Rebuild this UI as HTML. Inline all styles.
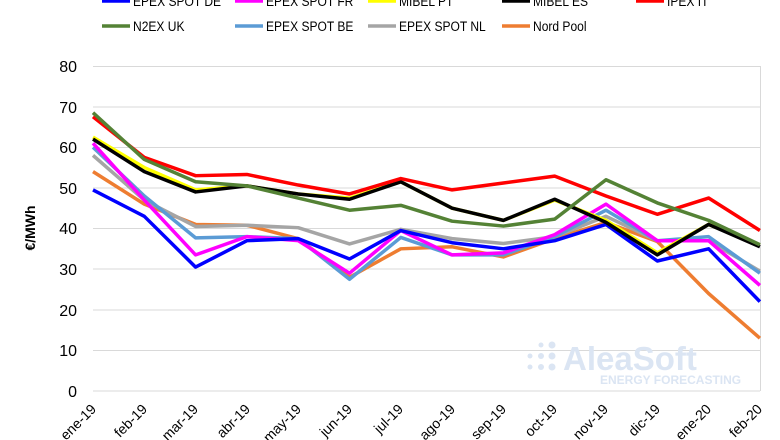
<!DOCTYPE html>
<html><head><meta charset="utf-8"><style>body{margin:0;background:#fff}svg{display:block;font-family:"Liberation Sans",sans-serif}</style></head><body>
<svg width="780" height="440" viewBox="0 0 780 440" xmlns="http://www.w3.org/2000/svg">
<rect width="780" height="440" fill="#fff"/>
<g stroke="#d9d9d9" stroke-width="1">
<line x1="93" x2="760" y1="66.5" y2="66.5"/><line x1="93" x2="760" y1="107" y2="107"/><line x1="93" x2="760" y1="147.5" y2="147.5"/><line x1="93" x2="760" y1="188" y2="188"/><line x1="93" x2="760" y1="228.5" y2="228.5"/><line x1="93" x2="760" y1="269" y2="269"/><line x1="93" x2="760" y1="310" y2="310"/><line x1="93" x2="760" y1="350.5" y2="350.5"/><line x1="93" x2="760" y1="391" y2="391"/>
<line x1="760.5" x2="760.5" y1="66" y2="391"/>
</g>
<g fill="#000" font-size="16" text-anchor="end">
<text x="77" y="72">80</text><text x="77" y="113">70</text><text x="77" y="153">60</text><text x="77" y="194">50</text><text x="77" y="234">40</text><text x="77" y="275">30</text><text x="77" y="316">20</text><text x="77" y="356">10</text><text x="77" y="397">0</text>
</g>
<text transform="translate(35,228) rotate(-90)" font-size="14" font-weight="bold" text-anchor="middle">€/MWh</text>
<g font-size="14" text-anchor="end" fill="#000">
<text transform="translate(97,410) rotate(-45)">ene-19</text><text transform="translate(148,410) rotate(-45)">feb-19</text><text transform="translate(199,410) rotate(-45)">mar-19</text><text transform="translate(251,410) rotate(-45)">abr-19</text><text transform="translate(302,410) rotate(-45)">may-19</text><text transform="translate(353,410) rotate(-45)">jun-19</text><text transform="translate(404,410) rotate(-45)">jul-19</text><text transform="translate(456,410) rotate(-45)">ago-19</text><text transform="translate(507,410) rotate(-45)">sep-19</text><text transform="translate(558,410) rotate(-45)">oct-19</text><text transform="translate(609,410) rotate(-45)">nov-19</text><text transform="translate(661,410) rotate(-45)">dic-19</text><text transform="translate(712,410) rotate(-45)">ene-20</text><text transform="translate(763,410) rotate(-45)">feb-20</text>
</g>
<g fill="#dbe5f3"><circle cx="552" cy="345" r="3.5"/><circle cx="552" cy="356" r="3.5"/><circle cx="541" cy="356" r="3"/><circle cx="530" cy="356" r="2.5"/><circle cx="541" cy="367" r="3"/><circle cx="552" cy="367" r="3.5"/><circle cx="530" cy="367" r="2.5"/><circle cx="541" cy="345" r="2.5"/></g>
<text x="563" y="370" font-size="33" font-weight="bold" fill="#dbe5f3">AleaSoft</text>
<text x="600" y="384" font-size="12" font-weight="bold" fill="#dbe5f3">ENERGY FORECASTING</text>
<g id="lines" fill="none" stroke-width="3.5" stroke-linejoin="round"></g>
<g font-size="14" fill="#000" id="leg"></g>
</svg>
<script>
const X=i=>93+i*51.3, Y=v=>391-4.0625*v;
const S=[
["#ee7d31",[54,46,41,40.8,37.5,28,35,35.5,33,37.5,41.5,36.8,24,13],"Nord Pool",502,26],
["#a5a5a5",[58,47,40.5,40.8,40.2,36.2,39.8,37.5,36.3,38,43,37,37,29.5],"EPEX SPOT NL",368,26],
["#5b9bd5",[60,48,37.7,38,37.5,27.5,37.8,33.5,33.5,38,44.5,37,38,29],"EPEX SPOT BE",235,26],
["#ff00ff",[61,47,33.5,38,37,29,39.5,33.5,34,38.5,46,37,37,26],"EPEX SPOT FR",235,1],
["#0000ff",[49.5,43,30.5,37,37.5,32.5,39.5,36.5,35,37,41,32,35,22],"EPEX SPOT DE",102,1],
["#ffff00",[62.5,55,49.5,50.5,48.5,47.5,51.5,45,42,47,42,34,41,36],"MIBEL PT",368,1],
["#000000",[62,54,49,50.5,48.5,47.2,51.5,45,42,47.2,41.5,33.5,41,35.5],"MIBEL ES",502,1],
["#ff0000",[67.5,57.5,53,53.3,50.7,48.5,52.3,49.5,51.2,52.9,48,43.5,47.5,39.5],"IPEX IT",636,1],
["#548235",[68.5,57,51.5,50.5,47.5,44.5,45.7,41.8,40.6,42.3,52,46.3,42,36],"N2EX UK",102,26]];
const ns="http://www.w3.org/2000/svg",L=document.getElementById("lines"),G=document.getElementById("leg");
for(const [c,d,n,lx,ly] of S){
 const p=document.createElementNS(ns,"polyline");p.setAttribute("points",d.map((v,i)=>X(i)+","+Y(v)).join(" "));p.setAttribute("stroke",c);L.appendChild(p);
 const l=document.createElementNS(ns,"line");l.setAttribute("x1",lx);l.setAttribute("x2",lx+28);l.setAttribute("y1",ly);l.setAttribute("y2",ly);l.setAttribute("stroke",c);l.setAttribute("stroke-width",3.5);G.appendChild(l);
 const t=document.createElementNS(ns,"text");t.setAttribute("transform","translate("+(lx+31)+","+(ly+5)+") scale(0.86,1)");t.textContent=n;G.appendChild(t);
}
</script>
</body></html>
